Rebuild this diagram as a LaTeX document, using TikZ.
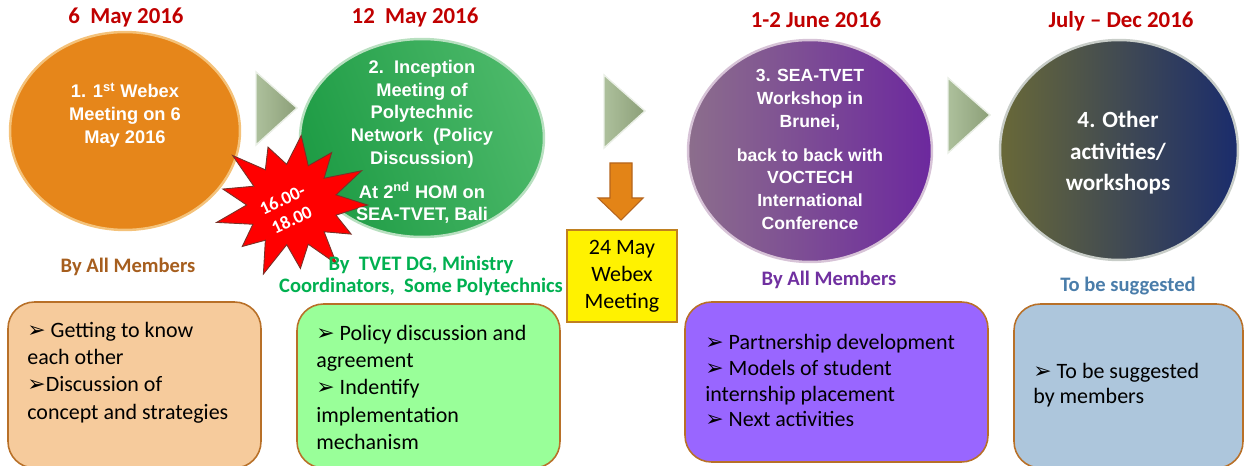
\documentclass[tikz,border=0pt]{standalone}
\usepackage{fontspec}
\setmainfont{Carlito}
\newfontfamily\arialf{Liberation Sans}
\newfontfamily\dejavu{DejaVu Sans}
\usetikzlibrary{shapes.geometric}
\definecolor{datered}{HTML}{C00000}
\definecolor{orgc}{HTML}{E6861A}
\definecolor{brownt}{HTML}{A65E1E}
\definecolor{greent}{HTML}{00B050}
\definecolor{purplet}{HTML}{7030A0}
\definecolor{bluet}{HTML}{4A7DAA}
\definecolor{boxbrd}{HTML}{B87028}
\definecolor{box1}{HTML}{F6CB9C}
\definecolor{box2}{HTML}{99FF99}
\definecolor{box3}{HTML}{9966FF}
\definecolor{box4}{HTML}{ADC6DC}
\definecolor{trileft}{HTML}{ADC09C}
\definecolor{triright}{HTML}{8C9F78}
\definecolor{grnL}{HTML}{1E9C45}
\definecolor{grnR}{HTML}{4DB96A}
\definecolor{grnRim}{HTML}{B8E0C0}
\definecolor{purL}{HTML}{8C6E8C}
\definecolor{purR}{HTML}{6C289E}
\definecolor{purRim}{HTML}{D7C3D7}
\definecolor{navL}{HTML}{696938}
\definecolor{navR}{HTML}{1A2C6C}
\definecolor{navRim}{HTML}{C8CDC8}
\definecolor{orgRim}{HTML}{F4C27A}
\definecolor{arrfill}{HTML}{E38417}
\definecolor{arrbrd}{HTML}{B5651D}
\definecolor{ybrd}{HTML}{C08020}
\definecolor{starbrd}{HTML}{783228}
\newcommand\arrbul{{\dejavu\fontsize{12.5}{12}\selectfont ➢}}
\tikzset{
  datetxt/.style={font=\bfseries\fontsize{13}{15}\selectfont, text=datered, inner sep=0pt},
  circtxt/.style={font=\arialf\bfseries\fontsize{10.4}{12.9}\selectfont, text=white, align=center, inner sep=0pt},
  whotxt/.style={font=\bfseries\fontsize{11.7}{13}\selectfont, inner sep=0pt, align=center},
  bubble/.style={ellipse, line width=1.4pt},
  notebox/.style={draw=boxbrd, line width=0.9pt, rounded corners=15pt, inner sep=0pt},
  notetxt/.style={font=\fontsize{12.5}{15.5}\selectfont, align=left, anchor=north west, inner sep=0pt},
  tri/.style={left color=trileft, right color=triright, draw=white!75!trileft, line width=0.8pt},
}
\begin{document}
\begin{tikzpicture}[x=0.02cm,y=-0.02cm]
\useasboundingbox (0,0) rectangle (1245,466);
\clip (0,0) rectangle (1245,466);

% dates
\node[datetxt] (d1) at (126,18) {6\ \ May 2016};
\node[datetxt] (d2) at (415,18) {12\ \ May 2016};
\node[datetxt] (d3) at (816,20) {1-2 June 2016};
\node[datetxt] (d4) at (1121,21) {July -- Dec 2016};

% bubbles
\node[bubble, fill=orgc, draw=orgRim, minimum width=4.6cm, minimum height=3.96cm] (c1) at (125,131) {};
\node[bubble, left color=grnL, right color=grnR, shading angle=110,
      draw=grnRim, minimum width=4.88cm, minimum height=3.96cm] (c2) at (422,138) {};
\node[bubble, left color=purL, right color=purR,
      draw=purRim, minimum width=4.88cm, minimum height=4.44cm] (c3) at (810,151) {};
\node[bubble, left color=navL, right color=navR,
      draw=navRim, minimum width=4.76cm, minimum height=4.4cm] (c4) at (1119,150) {};

% right-pointing triangles
\fill[tri] (256,72) -- (297,108) -- (256,145) -- cycle;
\fill[tri] (604,75) -- (645,111) -- (604,148) -- cycle;
\fill[tri] (948,78) -- (990,115) -- (948,153) -- cycle;

% bubble texts
\node[circtxt] (t1) at (125,115) {1. 1\textsuperscript{st} Webex\\Meeting on 6\\May 2016};
% starburst
\begin{scope}[shift={(292,205)}, xscale=1.08]
\fill[red, draw=starbrd, line width=0.5pt]
 (0:70) -- (14:42) -- (28:62) -- (42:40) -- (55:72) -- (69:42) -- (83:64) -- (97:40)
 -- (111:74) -- (125:43) -- (138:62) -- (152:41) -- (166:72) -- (180:42) -- (194:66)
 -- (208:40) -- (222:74) -- (235:43) -- (249:62) -- (263:41) -- (277:70) -- (291:42)
 -- (305:64) -- (318:40) -- (332:73) -- (346:42) -- cycle;
\end{scope}
\node[font=\bfseries\fontsize{10.5}{12.5}\selectfont, text=white, align=center, rotate=25, inner sep=0pt] (star) at (287,210) {16.00-\\18.00};

\node[circtxt] (t2a) at (422,114) {2.\ \ Inception\\Meeting of\\Polytechnic\\Network\ \ (Policy\\Discussion)};
\node[circtxt] (t2b) at (422,203) {At 2\textsuperscript{nd} HOM on\\SEA-TVET, Bali};
\node[circtxt, font=\arialf\bfseries\fontsize{10}{13}\selectfont] (t3a) at (810,100) {3. SEA-TVET\\Workshop in\\Brunei,};
\node[circtxt, font=\arialf\bfseries\fontsize{10}{13}\selectfont] (t3b) at (810,189) {back to back with\\VOCTECH\\International\\Conference};
\node[circtxt, font=\bfseries\fontsize{13.2}{18}\selectfont] (t4) at (1118,153) {4. Other\\activities/\\workshops};

% who lines
\node[whotxt, text=brownt] (w1) at (128,267) {By All Members};
\node[whotxt, text=greent, font=\bfseries\fontsize{11.7}{12.6}\selectfont] (w2) at (421,276) {By\ \ TVET DG, Ministry\\Coordinators,\ \ Some Polytechnics};
\node[whotxt, text=purplet] (w3) at (829,280) {By All Members};
\node[whotxt, text=bluet] (w4) at (1128,286) {To be suggested};

% down arrow and yellow box
\fill[arrfill, draw=arrbrd, line width=0.6pt]
 (610,163) -- (632,163) -- (632,198) -- (643,198) -- (621,220) -- (598,198) -- (610,198) -- cycle;
\node[draw=ybrd, fill=yellow, line width=0.9pt, minimum width=2.2cm, minimum height=1.84cm,
      align=center, font=\fontsize{12.5}{15.3}\selectfont, inner sep=0pt] (yb) at (622,276) {24 May\\Webex\\Meeting};

% note boxes
\node[notebox, fill=box1, minimum width=5.06cm, minimum height=3.32cm] (b1) at (134.5,385) {};
\node[notebox, fill=box2, minimum width=5.26cm, minimum height=3.28cm] (b2) at (428.5,386) {};
\node[notebox, fill=box3, minimum width=6.06cm, minimum height=3.2cm] (b3) at (836.5,382) {};
\node[notebox, fill=box4, minimum width=4.58cm, minimum height=3.28cm] (b4) at (1128.5,386) {};

\node[notetxt] (n1) at (27,318) {\strut\arrbul\ Getting to know\\each other\\\arrbul Discussion of\\concept and strategies};
\node[notetxt] (n2) at (316,321) {\strut\arrbul\ Policy discussion and\\agreement\\\arrbul\ Indentify\\implementation\\mechanism};
\node[notetxt, font=\fontsize{12.5}{14.7}\selectfont] (n3) at (705,331) {\strut\arrbul\ Partnership development\\\arrbul\ Models of student\\internship placement\\\arrbul\ Next activities};
\node[notetxt, font=\fontsize{12.5}{14.2}\selectfont] (n4) at (1033,361) {\strut\arrbul\ To be suggested\\by members};
\end{tikzpicture}
\end{document}
